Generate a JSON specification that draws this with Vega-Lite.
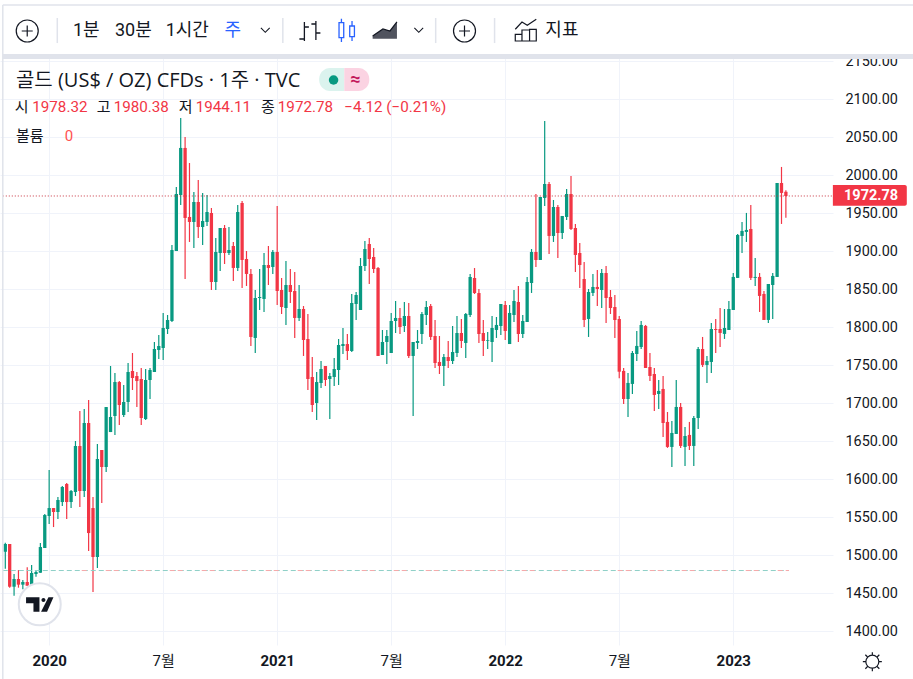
{
  "$schema": "https://vega.github.io/schema/vega-lite/v6.json",
  "width": 833,
  "height": 645,
  "autosize": {"type": "none"},
  "padding": {"left": 0, "top": 0, "right": 80, "bottom": 34},
  "background": "#ffffff",
  "datasets": {
    "candles": [
      {"date":"2019-10-21","open":1504.8,"high":1516.6,"low":1482.4,"close":1514.9},
      {"date":"2019-10-28","open":1514.9,"high":1514.9,"low":1457.4,"close":1458.7},
      {"date":"2019-11-04","open":1458.7,"high":1475.4,"low":1446.9,"close":1468.8},
      {"date":"2019-11-11","open":1468.8,"high":1480.7,"low":1457.4,"close":1461.4},
      {"date":"2019-11-18","open":1461.4,"high":1467.5,"low":1455.2,"close":1464.9},
      {"date":"2019-11-25","open":1464.9,"high":1484.2,"low":1460.0,"close":1460.0},
      {"date":"2019-12-02","open":1461.4,"high":1487.2,"low":1461.4,"close":1476.7},
      {"date":"2019-12-09","open":1475.4,"high":1480.7,"low":1471.9,"close":1478.0},
      {"date":"2019-12-16","open":1477.1,"high":1516.2,"low":1477.1,"close":1510.9},
      {"date":"2019-12-23","open":1509.6,"high":1554.3,"low":1509.6,"close":1553.0},
      {"date":"2019-12-30","open":1551.7,"high":1612.2,"low":1541.2,"close":1562.2},
      {"date":"2020-01-06","open":1562.2,"high":1562.2,"low":1537.2,"close":1557.0},
      {"date":"2020-01-13","open":1557.0,"high":1576.7,"low":1547.8,"close":1572.8},
      {"date":"2020-01-20","open":1570.1,"high":1591.2,"low":1564.9,"close":1589.9},
      {"date":"2020-01-27","open":1593.8,"high":1595.1,"low":1547.8,"close":1570.1},
      {"date":"2020-02-03","open":1570.1,"high":1585.9,"low":1562.2,"close":1584.6},
      {"date":"2020-02-10","open":1583.3,"high":1650.4,"low":1578.0,"close":1643.8},
      {"date":"2020-02-17","open":1643.8,"high":1689.9,"low":1563.6,"close":1584.6},
      {"date":"2020-02-24","open":1584.6,"high":1692.5,"low":1576.7,"close":1674.1},
      {"date":"2020-03-02","open":1674.1,"high":1704.3,"low":1505.7,"close":1529.3},
      {"date":"2020-03-09","open":1562.2,"high":1576.7,"low":1451.7,"close":1497.8},
      {"date":"2020-03-16","open":1497.8,"high":1646.4,"low":1483.3,"close":1626.7},
      {"date":"2020-03-23","open":1638.6,"high":1638.6,"low":1568.8,"close":1616.2},
      {"date":"2020-03-30","open":1616.2,"high":1695.1,"low":1609.6,"close":1695.1},
      {"date":"2020-04-06","open":1662.2,"high":1749.1,"low":1662.2,"close":1682.0},
      {"date":"2020-04-13","open":1683.3,"high":1739.9,"low":1658.3,"close":1728.0},
      {"date":"2020-04-20","open":1728.0,"high":1729.3,"low":1671.4,"close":1697.8},
      {"date":"2020-04-27","open":1684.6,"high":1724.1,"low":1682.0,"close":1701.7},
      {"date":"2020-05-04","open":1701.7,"high":1753.0,"low":1688.5,"close":1741.2},
      {"date":"2020-05-11","open":1742.5,"high":1766.2,"low":1717.5,"close":1733.3},
      {"date":"2020-05-18","open":1735.9,"high":1741.2,"low":1695.1,"close":1729.3},
      {"date":"2020-05-25","open":1732.0,"high":1746.4,"low":1671.4,"close":1680.7},
      {"date":"2020-06-01","open":1679.3,"high":1745.1,"low":1678.0,"close":1730.7},
      {"date":"2020-06-08","open":1730.7,"high":1746.4,"low":1705.7,"close":1743.8},
      {"date":"2020-06-15","open":1741.2,"high":1780.7,"low":1741.2,"close":1771.5},
      {"date":"2020-06-22","open":1770.2,"high":1789.9,"low":1758.3,"close":1775.4},
      {"date":"2020-06-29","open":1772.8,"high":1818.8,"low":1757.0,"close":1799.1},
      {"date":"2020-07-06","open":1797.8,"high":1816.2,"low":1791.2,"close":1809.6},
      {"date":"2020-07-13","open":1808.3,"high":1908.3,"low":1807.0,"close":1901.7},
      {"date":"2020-07-20","open":1900.4,"high":1984.6,"low":1900.4,"close":1975.4},
      {"date":"2020-07-27","open":1974.1,"high":2075.4,"low":1961.0,"close":2036.0},
      {"date":"2020-08-03","open":2036.0,"high":2050.4,"low":1863.6,"close":1943.9},
      {"date":"2020-08-10","open":1945.2,"high":2016.2,"low":1912.3,"close":1938.6},
      {"date":"2020-08-17","open":1938.6,"high":1978.1,"low":1904.4,"close":1964.9},
      {"date":"2020-08-24","open":1964.9,"high":1993.9,"low":1917.5,"close":1932.0},
      {"date":"2020-08-31","open":1932.0,"high":1976.7,"low":1908.3,"close":1939.9},
      {"date":"2020-09-07","open":1938.6,"high":1974.1,"low":1933.3,"close":1951.7},
      {"date":"2020-09-14","open":1950.4,"high":1957.0,"low":1849.1,"close":1859.6},
      {"date":"2020-09-21","open":1859.6,"high":1917.5,"low":1849.1,"close":1899.1},
      {"date":"2020-09-28","open":1897.8,"high":1930.7,"low":1874.1,"close":1930.7},
      {"date":"2020-10-05","open":1930.7,"high":1934.6,"low":1883.3,"close":1897.8},
      {"date":"2020-10-12","open":1897.8,"high":1932.0,"low":1895.2,"close":1901.7},
      {"date":"2020-10-19","open":1907.0,"high":1912.3,"low":1861.0,"close":1878.1},
      {"date":"2020-10-26","open":1878.1,"high":1961.0,"low":1874.1,"close":1951.7},
      {"date":"2020-11-02","open":1963.6,"high":1966.2,"low":1851.7,"close":1888.6},
      {"date":"2020-11-09","open":1889.9,"high":1900.4,"low":1854.4,"close":1870.2},
      {"date":"2020-11-16","open":1870.2,"high":1876.8,"low":1775.4,"close":1787.3},
      {"date":"2020-11-23","open":1786.0,"high":1849.1,"low":1766.2,"close":1838.6},
      {"date":"2020-11-30","open":1838.6,"high":1876.8,"low":1822.8,"close":1839.9},
      {"date":"2020-12-07","open":1837.3,"high":1897.8,"low":1820.2,"close":1882.0},
      {"date":"2020-12-14","open":1882.0,"high":1907.0,"low":1855.7,"close":1878.1},
      {"date":"2020-12-21","open":1879.4,"high":1901.7,"low":1870.2,"close":1899.1},
      {"date":"2020-12-28","open":1899.1,"high":1959.6,"low":1829.4,"close":1847.8},
      {"date":"2021-01-04","open":1849.1,"high":1864.9,"low":1817.5,"close":1826.7},
      {"date":"2021-01-11","open":1825.4,"high":1887.3,"low":1803.1,"close":1855.7},
      {"date":"2021-01-18","open":1855.7,"high":1876.8,"low":1832.0,"close":1846.5},
      {"date":"2021-01-25","open":1847.8,"high":1872.8,"low":1785.9,"close":1812.3},
      {"date":"2021-02-01","open":1812.3,"high":1855.7,"low":1808.3,"close":1824.1},
      {"date":"2021-02-08","open":1824.1,"high":1828.0,"low":1762.3,"close":1783.3},
      {"date":"2021-02-15","open":1784.6,"high":1817.5,"low":1717.5,"close":1732.0},
      {"date":"2021-02-22","open":1734.6,"high":1760.9,"low":1688.6,"close":1697.8},
      {"date":"2021-03-01","open":1700.4,"high":1741.2,"low":1678.0,"close":1728.0},
      {"date":"2021-03-08","open":1726.7,"high":1755.7,"low":1720.1,"close":1745.1},
      {"date":"2021-03-15","open":1749.1,"high":1749.1,"low":1722.8,"close":1730.7},
      {"date":"2021-03-22","open":1732.0,"high":1739.9,"low":1679.4,"close":1735.9},
      {"date":"2021-03-29","open":1734.6,"high":1759.6,"low":1722.8,"close":1745.1},
      {"date":"2021-04-05","open":1743.8,"high":1784.6,"low":1724.1,"close":1776.7},
      {"date":"2021-04-12","open":1775.4,"high":1799.1,"low":1764.9,"close":1778.0},
      {"date":"2021-04-19","open":1778.0,"high":1791.2,"low":1757.0,"close":1768.8},
      {"date":"2021-04-26","open":1768.8,"high":1843.8,"low":1767.5,"close":1832.0},
      {"date":"2021-05-03","open":1830.7,"high":1846.5,"low":1809.6,"close":1842.5},
      {"date":"2021-05-10","open":1822.8,"high":1891.2,"low":1822.8,"close":1880.7},
      {"date":"2021-05-17","open":1880.7,"high":1913.6,"low":1874.1,"close":1903.0},
      {"date":"2021-05-24","open":1909.6,"high":1917.5,"low":1857.0,"close":1889.9},
      {"date":"2021-05-31","open":1892.5,"high":1904.4,"low":1871.5,"close":1876.7},
      {"date":"2021-06-07","open":1878.0,"high":1879.4,"low":1762.3,"close":1762.3},
      {"date":"2021-06-14","open":1763.6,"high":1796.5,"low":1763.6,"close":1780.7},
      {"date":"2021-06-21","open":1780.7,"high":1796.5,"low":1751.7,"close":1788.6},
      {"date":"2021-06-28","open":1766.2,"high":1818.8,"low":1766.2,"close":1808.3},
      {"date":"2021-07-05","open":1808.3,"high":1834.6,"low":1792.5,"close":1812.3},
      {"date":"2021-07-12","open":1812.3,"high":1825.4,"low":1791.2,"close":1800.4},
      {"date":"2021-07-19","open":1801.7,"high":1833.3,"low":1793.8,"close":1814.9},
      {"date":"2021-07-26","open":1814.9,"high":1832.0,"low":1759.6,"close":1762.3},
      {"date":"2021-08-02","open":1762.3,"high":1780.7,"low":1683.3,"close":1780.7},
      {"date":"2021-08-09","open":1779.4,"high":1796.5,"low":1771.5,"close":1782.0},
      {"date":"2021-08-16","open":1791.2,"high":1820.1,"low":1778.0,"close":1817.5},
      {"date":"2021-08-23","open":1816.2,"high":1834.6,"low":1803.0,"close":1826.7},
      {"date":"2021-08-30","open":1828.0,"high":1830.7,"low":1783.3,"close":1787.3},
      {"date":"2021-09-06","open":1788.6,"high":1809.6,"low":1746.5,"close":1753.0},
      {"date":"2021-09-13","open":1754.4,"high":1788.6,"low":1738.6,"close":1749.1},
      {"date":"2021-09-20","open":1749.1,"high":1764.9,"low":1722.8,"close":1760.9},
      {"date":"2021-09-27","open":1760.9,"high":1782.0,"low":1746.5,"close":1755.7},
      {"date":"2021-10-04","open":1755.7,"high":1801.7,"low":1751.7,"close":1767.5},
      {"date":"2021-10-11","open":1766.2,"high":1814.9,"low":1760.9,"close":1792.5},
      {"date":"2021-10-18","open":1792.5,"high":1811.0,"low":1772.8,"close":1782.0},
      {"date":"2021-10-25","open":1779.4,"high":1818.8,"low":1759.6,"close":1817.5},
      {"date":"2021-11-01","open":1816.2,"high":1870.1,"low":1813.6,"close":1866.2},
      {"date":"2021-11-08","open":1864.9,"high":1878.0,"low":1843.8,"close":1845.1},
      {"date":"2021-11-15","open":1845.1,"high":1850.4,"low":1779.4,"close":1791.2},
      {"date":"2021-11-22","open":1792.5,"high":1809.6,"low":1762.3,"close":1782.0},
      {"date":"2021-11-29","open":1782.4,"high":1793.8,"low":1771.5,"close":1783.3},
      {"date":"2021-12-06","open":1780.7,"high":1814.9,"low":1754.4,"close":1799.1},
      {"date":"2021-12-13","open":1796.5,"high":1813.6,"low":1786.0,"close":1803.1},
      {"date":"2021-12-20","open":1801.7,"high":1830.7,"low":1790.0,"close":1830.7},
      {"date":"2021-12-27","open":1829.4,"high":1834.6,"low":1783.3,"close":1795.2},
      {"date":"2022-01-03","open":1778.0,"high":1829.4,"low":1778.0,"close":1818.9},
      {"date":"2022-01-10","open":1816.2,"high":1849.1,"low":1807.0,"close":1834.6},
      {"date":"2022-01-17","open":1833.3,"high":1854.4,"low":1780.7,"close":1791.2},
      {"date":"2022-01-24","open":1791.2,"high":1816.2,"low":1786.0,"close":1808.3},
      {"date":"2022-01-31","open":1807.0,"high":1866.2,"low":1807.0,"close":1859.6},
      {"date":"2022-02-07","open":1858.3,"high":1903.0,"low":1845.2,"close":1899.1},
      {"date":"2022-02-14","open":1899.1,"high":1975.4,"low":1879.4,"close":1888.6},
      {"date":"2022-02-21","open":1888.6,"high":1971.5,"low":1888.6,"close":1971.5},
      {"date":"2022-02-28","open":1970.2,"high":2071.5,"low":1959.6,"close":1988.6},
      {"date":"2022-03-07","open":1988.6,"high":1991.2,"low":1896.5,"close":1920.2},
      {"date":"2022-03-14","open":1920.2,"high":1967.5,"low":1912.3,"close":1958.3},
      {"date":"2022-03-21","open":1958.3,"high":1961.0,"low":1891.2,"close":1924.1},
      {"date":"2022-03-28","open":1924.1,"high":1946.5,"low":1916.2,"close":1946.5},
      {"date":"2022-04-04","open":1945.2,"high":1982.0,"low":1941.2,"close":1975.4},
      {"date":"2022-04-11","open":1975.4,"high":1999.1,"low":1928.1,"close":1929.4},
      {"date":"2022-04-18","open":1930.7,"high":1936.0,"low":1872.8,"close":1895.2},
      {"date":"2022-04-25","open":1897.8,"high":1911.0,"low":1851.7,"close":1882.0},
      {"date":"2022-05-02","open":1863.6,"high":1886.0,"low":1800.4,"close":1809.6},
      {"date":"2022-05-09","open":1811.0,"high":1850.4,"low":1787.3,"close":1846.5},
      {"date":"2022-05-16","open":1845.2,"high":1870.2,"low":1841.2,"close":1853.1},
      {"date":"2022-05-23","open":1853.1,"high":1875.4,"low":1828.1,"close":1850.4},
      {"date":"2022-05-30","open":1849.1,"high":1876.8,"low":1825.4,"close":1871.5},
      {"date":"2022-06-06","open":1871.5,"high":1880.7,"low":1805.7,"close":1838.6},
      {"date":"2022-06-13","open":1839.9,"high":1849.1,"low":1817.5,"close":1825.4},
      {"date":"2022-06-20","open":1826.7,"high":1842.5,"low":1786.0,"close":1809.6},
      {"date":"2022-06-27","open":1810.9,"high":1814.9,"low":1732.9,"close":1741.6},
      {"date":"2022-07-04","open":1742.6,"high":1746.5,"low":1699.2,"close":1705.7},
      {"date":"2022-07-11","open":1705.7,"high":1739.9,"low":1682.0,"close":1726.8},
      {"date":"2022-07-18","open":1725.5,"high":1768.9,"low":1712.3,"close":1766.2},
      {"date":"2022-07-25","open":1764.9,"high":1795.2,"low":1755.7,"close":1775.5},
      {"date":"2022-08-01","open":1774.1,"high":1808.4,"low":1771.5,"close":1803.1},
      {"date":"2022-08-08","open":1801.8,"high":1803.1,"low":1746.5,"close":1746.5},
      {"date":"2022-08-15","open":1747.8,"high":1766.3,"low":1729.4,"close":1736.0},
      {"date":"2022-08-22","open":1738.6,"high":1746.5,"low":1689.9,"close":1711.0},
      {"date":"2022-08-29","open":1712.3,"high":1730.7,"low":1692.6,"close":1716.3},
      {"date":"2022-09-05","open":1718.9,"high":1736.0,"low":1655.7,"close":1674.1},
      {"date":"2022-09-12","open":1675.5,"high":1688.6,"low":1641.3,"close":1642.6},
      {"date":"2022-09-19","open":1642.6,"high":1676.8,"low":1616.3,"close":1661.0},
      {"date":"2022-09-26","open":1659.7,"high":1730.7,"low":1659.7,"close":1695.2},
      {"date":"2022-10-03","open":1695.2,"high":1700.5,"low":1641.3,"close":1643.9},
      {"date":"2022-10-10","open":1642.6,"high":1668.9,"low":1617.6,"close":1657.0},
      {"date":"2022-10-17","open":1658.4,"high":1675.5,"low":1638.6,"close":1643.9},
      {"date":"2022-10-24","open":1643.9,"high":1683.4,"low":1617.6,"close":1680.7},
      {"date":"2022-10-31","open":1680.7,"high":1774.1,"low":1666.3,"close":1771.5},
      {"date":"2022-11-07","open":1771.5,"high":1787.3,"low":1747.8,"close":1750.5},
      {"date":"2022-11-14","open":1750.5,"high":1762.3,"low":1726.8,"close":1755.7},
      {"date":"2022-11-21","open":1754.4,"high":1805.7,"low":1739.9,"close":1797.8},
      {"date":"2022-11-28","open":1797.8,"high":1811.0,"low":1766.3,"close":1796.5},
      {"date":"2022-12-05","open":1797.8,"high":1825.5,"low":1774.1,"close":1792.6},
      {"date":"2022-12-12","open":1791.3,"high":1824.1,"low":1784.7,"close":1799.1},
      {"date":"2022-12-19","open":1796.5,"high":1834.7,"low":1796.5,"close":1824.1},
      {"date":"2022-12-26","open":1822.8,"high":1871.5,"low":1822.8,"close":1866.3},
      {"date":"2023-01-02","open":1865.0,"high":1922.8,"low":1865.0,"close":1921.5},
      {"date":"2023-01-09","open":1920.2,"high":1938.6,"low":1897.8,"close":1926.8},
      {"date":"2023-01-16","open":1925.5,"high":1950.5,"low":1912.3,"close":1928.1},
      {"date":"2023-01-23","open":1929.4,"high":1961.0,"low":1862.3,"close":1865.0},
      {"date":"2023-01-30","open":1865.0,"high":1891.3,"low":1854.4,"close":1866.3},
      {"date":"2023-02-06","open":1866.3,"high":1871.5,"low":1820.2,"close":1841.3},
      {"date":"2023-02-13","open":1843.9,"high":1847.8,"low":1809.7,"close":1809.7},
      {"date":"2023-02-20","open":1809.7,"high":1857.0,"low":1805.7,"close":1857.0},
      {"date":"2023-02-27","open":1855.7,"high":1871.5,"low":1811.0,"close":1867.6},
      {"date":"2023-03-06","open":1866.3,"high":1989.9,"low":1866.3,"close":1989.9},
      {"date":"2023-03-13","open":1989.9,"high":2011.0,"low":1936.0,"close":1976.8},
      {"date":"2023-03-20","open":1978.32,"high":1980.38,"low":1944.11,"close":1972.78}
    ]
  },
  "layer": [
    {
      "data": {"name": "candles"},
      "mark": {"type": "rule", "strokeWidth": 1.2},
      "encoding": {
        "x": {
          "field": "date",
          "type": "temporal",
          "scale": {"domain": ["2019-10-12T13:00:00", "2023-06-03T05:00:00"], "padding": 0},
          "title": null,
          "axis": {
            "values": ["2019-12-30", "2020-06-29", "2020-12-28", "2021-06-28", "2021-12-27", "2022-06-27", "2022-12-26"],
            "labelExpr": "month(datum.value) < 8 ? '7월' : '' + (year(datum.value) + 1)",
            "labelFontWeight": {"condition": {"test": "month(datum.value) >= 8", "value": "bold"}, "value": "normal"},
            "labelFontSize": 15,
            "labelPadding": 8,
            "labelFlush": false,
            "ticks": false,
            "domain": false,
            "gridColor": "#f0f3fa"
          }
        },
        "y": {
          "field": "low",
          "type": "quantitative",
          "scale": {"domain": [1382, 2230.66], "nice": false, "zero": false},
          "title": null,
          "axis": {
            "orient": "right",
            "values": [1400, 1450, 1500, 1550, 1600, 1650, 1700, 1750, 1800, 1850, 1900, 1950, 2000, 2050, 2100, 2150],
            "format": ".2f",
            "labelFontSize": 14.4,
            "labelPadding": 12,
            "ticks": false,
            "domain": false,
            "gridColor": "#f0f3fa"
          }
        },
        "y2": {"field": "high"},
        "color": {"condition": {"test": "datum.close < datum.open", "value": "#f23645"}, "value": "#089981"}
      }
    },
    {
      "data": {"name": "candles"},
      "mark": {"type": "bar", "size": 3.3},
      "encoding": {
        "x": {"field": "date", "type": "temporal"},
        "y": {"field": "open", "type": "quantitative"},
        "y2": {"field": "close"},
        "color": {"condition": {"test": "datum.close < datum.open", "value": "#f23645"}, "value": "#089981"}
      }
    },
    {
      "data": {"values": [{}]},
      "mark": {"type": "rule", "stroke": "#c8323f", "strokeWidth": 1, "strokeDash": [1, 2]},
      "encoding": {"x": {"datum": {"year": 2019, "month": 10, "date": 17}, "type": "temporal"}, "x2": {"datum": {"year": 2023, "month": 6, "date": 3}}, "y": {"datum": 1972.78, "type": "quantitative"}}
    },
    {
      "data": {"values": [{}]},
      "mark": {"type": "rule", "stroke": "#8fd0c8", "strokeWidth": 1, "strokeDash": [5, 3]},
      "encoding": {"x": {"datum": {"year": 2019, "month": 10, "date": 17}, "type": "temporal"}, "x2": {"datum": {"year": 2023, "month": 3, "date": 25}}, "y": {"datum": 1480, "type": "quantitative"}}
    },
    {
      "data": {"values": [{}]},
      "mark": {"type": "rule", "stroke": "#f7a9ab", "strokeWidth": 1, "strokeDash": [5, 19, 5, 3]},
      "encoding": {"x": {"datum": {"year": 2020, "month": 2, "date": 20}, "type": "temporal"}, "x2": {"datum": {"year": 2023, "month": 3, "date": 25}}, "y": {"datum": 1480, "type": "quantitative"}}
    },
    {
      "data": {"values": [{}]},
      "mark": {"type": "rect", "fill": "#ffffff"},
      "encoding": {"x": {"datum": {"year": 2019, "month": 10, "date": 12}, "type": "temporal"}, "x2": {"datum": {"year": 2023, "month": 10, "date": 10}}, "y": {"datum": 2230.66, "type": "quantitative"}, "y2": {"datum": 2159.6}}
    },
    {
      "data": {"values": [{}]},
      "mark": {"type": "rect", "fill": "#e0e3eb"},
      "encoding": {"x": {"datum": {"year": 2019, "month": 10, "date": 17}, "type": "temporal"}, "x2": {"datum": {"year": 2023, "month": 10, "date": 10}}, "y": {"datum": 2159.6, "type": "quantitative"}, "y2": {"datum": 2153}}
    },
    {
      "data": {"values": [{}]},
      "mark": {"type": "rule", "stroke": "#e0e3eb", "strokeWidth": 1.5},
      "encoding": {"x": {"datum": {"year": 2019, "month": 10, "date": 17}, "type": "temporal"}, "y": {"datum": 2224, "type": "quantitative"}, "y2": {"datum": 1337.3}}
    },
    {
      "data": {"values": [{}]},
      "mark": {"type": "rule", "stroke": "#e0e3eb", "strokeWidth": 1.5},
      "encoding": {"x": {"datum": {"year": 2019, "month": 10, "date": 17}, "type": "temporal"}, "x2": {"datum": {"year": 2023, "month": 10, "date": 10}}, "y": {"datum": 2224, "type": "quantitative"}}
    },
    {
      "data": {"values": [{}]},
      "mark": {"type": "rule", "stroke": "#e0e3eb", "strokeWidth": 1.5},
      "encoding": {"x": {"datum": {"year": 2020, "month": 1, "date": 12}, "type": "temporal"}, "y": {"datum": 2207, "type": "quantitative"}, "y2": {"datum": 2174}}
    },
    {
      "data": {"values": [{}]},
      "mark": {"type": "rule", "stroke": "#e0e3eb", "strokeWidth": 1.5},
      "encoding": {"x": {"datum": {"year": 2021, "month": 1, "date": 6}, "type": "temporal"}, "y": {"datum": 2207, "type": "quantitative"}, "y2": {"datum": 2174}}
    },
    {
      "data": {"values": [{}]},
      "mark": {"type": "rule", "stroke": "#e0e3eb", "strokeWidth": 1.5},
      "encoding": {"x": {"datum": {"year": 2021, "month": 9, "date": 7}, "type": "temporal"}, "y": {"datum": 2207, "type": "quantitative"}, "y2": {"datum": 2174}}
    },
    {
      "data": {"values": [{}]},
      "mark": {"type": "rule", "stroke": "#e0e3eb", "strokeWidth": 1.5},
      "encoding": {"x": {"datum": {"year": 2021, "month": 12, "date": 10}, "type": "temporal"}, "y": {"datum": 2207, "type": "quantitative"}, "y2": {"datum": 2174}}
    },
    {
      "data": {"values": [{}]},
      "mark": {"type": "point", "filled": false, "size": 484, "stroke": "#131722", "strokeWidth": 1.2, "opacity": 1, "shape": "M-1,0A1,1 0 1,1 1,0A1,1 0 1,1 -1,0M-0.5,0H0.5M0,-0.5V0.5"},
      "encoding": {"x": {"datum": {"year": 2019, "month": 11, "date": 25}, "type": "temporal"}, "y": {"datum": 2189.9, "type": "quantitative"}}
    },
    {
      "data": {"values": [{}]},
      "mark": {"type": "point", "filled": false, "size": 484, "stroke": "#131722", "strokeWidth": 1.2, "opacity": 1, "shape": "M-1,0A1,1 0 1,1 1,0A1,1 0 1,1 -1,0M-0.5,0H0.5M0,-0.5V0.5"},
      "encoding": {"x": {"datum": {"year": 2021, "month": 10, "date": 23}, "type": "temporal"}, "y": {"datum": 2189.9, "type": "quantitative"}}
    },
    {
      "data": {"values": [{}]},
      "mark": {"type": "point", "filled": false, "size": 121, "stroke": "#131722", "strokeWidth": 1.1, "opacity": 1, "shape": "M-0.8,-0.4L0,0.4L0.8,-0.4"},
      "encoding": {"x": {"datum": {"year": 2020, "month": 12, "date": 9}, "type": "temporal"}, "y": {"datum": 2191, "type": "quantitative"}}
    },
    {
      "data": {"values": [{}]},
      "mark": {"type": "point", "filled": false, "size": 121, "stroke": "#131722", "strokeWidth": 1.1, "opacity": 1, "shape": "M-0.8,-0.4L0,0.4L0.8,-0.4"},
      "encoding": {"x": {"datum": {"year": 2021, "month": 8, "date": 11}, "type": "temporal"}, "y": {"datum": 2191, "type": "quantitative"}}
    },
    {
      "data": {"values": [{}]},
      "mark": {"type": "point", "filled": false, "size": 400, "stroke": "#131722", "strokeWidth": 1.3, "opacity": 1, "shape": "M-0.6,-0.9V1M-0.6,0.8H-1.1M-0.6,-0.4H-0.15M0.55,-1V0.9M0.55,-0.7H0.1M0.55,0.2H1"},
      "encoding": {"x": {"datum": {"year": 2021, "month": 2, "date": 19}, "type": "temporal"}, "y": {"datum": 2189.9, "type": "quantitative"}}
    },
    {
      "data": {"values": [{}]},
      "mark": {"type": "point", "filled": false, "size": 400, "stroke": "#2962ff", "strokeWidth": 1.3, "opacity": 1, "shape": "M-0.77,-0.83H-0.3V0.67H-0.77ZM-0.53,-1.23V-0.83M-0.53,0.67V1.1M0.3,-0.5H0.77V0.57H0.3ZM0.53,-1V-0.5M0.53,0.57V1"},
      "encoding": {"x": {"datum": {"year": 2021, "month": 4, "date": 18}, "type": "temporal"}, "y": {"datum": 2189.9, "type": "quantitative"}}
    },
    {
      "data": {"values": [{}]},
      "mark": {"type": "point", "filled": true, "size": 400, "fill": "#50535e", "opacity": 1, "shape": "M-1.23,0.5L-0.2,-0.2L0.5,0L1.2,-0.9V0.77H-1.23Z"},
      "encoding": {"x": {"datum": {"year": 2021, "month": 6, "date": 18}, "type": "temporal"}, "y": {"datum": 2189.9, "type": "quantitative"}}
    },
    {
      "data": {"values": [{}]},
      "mark": {"type": "point", "filled": false, "size": 400, "stroke": "#131722", "strokeWidth": 1.2, "opacity": 1, "shape": "M-1.23,0.5L-0.2,-0.2L0.5,0L1.2,-0.9"},
      "encoding": {"x": {"datum": {"year": 2021, "month": 6, "date": 18}, "type": "temporal"}, "y": {"datum": 2189.9, "type": "quantitative"}}
    },
    {
      "data": {"values": [{}]},
      "mark": {"type": "point", "filled": false, "size": 400, "stroke": "#131722", "strokeWidth": 1.2, "opacity": 1, "shape": "M-1,0.33H-0.33V1H-1ZM-0.33,-0.1H0.43V1H-0.33ZM0.43,-0.17H1.1V1H0.43ZM-1,-0.17L-0.33,-0.9L0.2,-0.57L1.1,-1.17"},
      "encoding": {"x": {"datum": {"year": 2022, "month": 1, "date": 28}, "type": "temporal"}, "y": {"datum": 2189.9, "type": "quantitative"}}
    },
    {
      "data": {"values": [{}]},
      "mark": {"type": "text", "text": "1분", "align": "left", "fontSize": 18, "color": "#131722"},
      "encoding": {"x": {"datum": {"year": 2020, "month": 2, "date": 6}, "type": "temporal"}, "y": {"datum": 2189.9, "type": "quantitative"}}
    },
    {
      "data": {"values": [{}]},
      "mark": {"type": "text", "text": "30분", "align": "left", "fontSize": 18, "color": "#131722"},
      "encoding": {"x": {"datum": {"year": 2020, "month": 4, "date": 13}, "type": "temporal"}, "y": {"datum": 2189.9, "type": "quantitative"}}
    },
    {
      "data": {"values": [{}]},
      "mark": {"type": "text", "text": "1시간", "align": "left", "fontSize": 18, "color": "#131722"},
      "encoding": {"x": {"datum": {"year": 2020, "month": 7, "date": 3}, "type": "temporal"}, "y": {"datum": 2189.9, "type": "quantitative"}}
    },
    {
      "data": {"values": [{}]},
      "mark": {"type": "text", "text": "주", "align": "left", "fontSize": 18, "color": "#2962ff"},
      "encoding": {"x": {"datum": {"year": 2020, "month": 10, "date": 5}, "type": "temporal"}, "y": {"datum": 2189.9, "type": "quantitative"}}
    },
    {
      "data": {"values": [{}]},
      "mark": {"type": "text", "text": "지표", "align": "left", "fontSize": 18, "color": "#131722"},
      "encoding": {"x": {"datum": {"year": 2022, "month": 3, "date": 1}, "type": "temporal"}, "y": {"datum": 2189.9, "type": "quantitative"}}
    },
    {
      "data": {"values": [{}]},
      "mark": {"type": "text", "text": "골드 (US$ / OZ) CFDs · 1주 · TVC", "align": "left", "fontSize": 20, "font": "Open Sans, 'Noto Sans CJK KR', sans-serif", "color": "#131722"},
      "encoding": {"x": {"datum": {"year": 2019, "month": 11, "date": 7}, "type": "temporal"}, "y": {"datum": 2124.1, "type": "quantitative"}}
    },
    {
      "data": {"values": [{}]},
      "mark": {"type": "bar", "fill": "#dbf3ee", "cornerRadiusTopLeft": 11, "cornerRadiusBottomLeft": 11},
      "encoding": {"x": {"datum": {"year": 2021, "month": 3, "date": 5}, "type": "temporal"}, "x2": {"datum": {"year": 2021, "month": 4, "date": 14}}, "y": {"datum": 2141.2, "type": "quantitative"}, "y2": {"datum": 2110.9}}
    },
    {
      "data": {"values": [{}]},
      "mark": {"type": "bar", "fill": "#fbd3e2", "cornerRadiusTopRight": 11, "cornerRadiusBottomRight": 11},
      "encoding": {"x": {"datum": {"year": 2021, "month": 4, "date": 14}, "type": "temporal"}, "x2": {"datum": {"year": 2021, "month": 5, "date": 24}}, "y": {"datum": 2141.2, "type": "quantitative"}, "y2": {"datum": 2110.9}}
    },
    {
      "data": {"values": [{}]},
      "mark": {"type": "point", "filled": true, "size": 90, "fill": "#089981", "opacity": 1, "shape": "circle"},
      "encoding": {"x": {"datum": {"year": 2021, "month": 3, "date": 28}, "type": "temporal"}, "y": {"datum": 2125.4, "type": "quantitative"}}
    },
    {
      "data": {"values": [{}]},
      "mark": {"type": "text", "text": "≈", "fontSize": 18, "fontWeight": "bold", "color": "#c2185b"},
      "encoding": {"x": {"datum": {"year": 2021, "month": 5, "date": 2}, "type": "temporal"}, "y": {"datum": 2125.4, "type": "quantitative"}}
    },
    {
      "data": {"values": [{}]},
      "mark": {"type": "text", "text": "시", "align": "left", "fontSize": 15, "color": "#131722"},
      "encoding": {"x": {"datum": {"year": 2019, "month": 11, "date": 5}, "type": "temporal"}, "y": {"datum": 2089.9, "type": "quantitative"}}
    },
    {
      "data": {"values": [{}]},
      "mark": {"type": "text", "text": "1978.32", "align": "left", "fontSize": 15.2, "color": "#f23645"},
      "encoding": {"x": {"datum": {"year": 2019, "month": 12, "date": 3}, "type": "temporal"}, "y": {"datum": 2089.9, "type": "quantitative"}}
    },
    {
      "data": {"values": [{}]},
      "mark": {"type": "text", "text": "고", "align": "left", "fontSize": 15, "color": "#131722"},
      "encoding": {"x": {"datum": {"year": 2020, "month": 3, "date": 15}, "type": "temporal"}, "y": {"datum": 2089.9, "type": "quantitative"}}
    },
    {
      "data": {"values": [{}]},
      "mark": {"type": "text", "text": "1980.38", "align": "left", "fontSize": 15.2, "color": "#f23645"},
      "encoding": {"x": {"datum": {"year": 2020, "month": 4, "date": 11}, "type": "temporal"}, "y": {"datum": 2089.9, "type": "quantitative"}}
    },
    {
      "data": {"values": [{}]},
      "mark": {"type": "text", "text": "저", "align": "left", "fontSize": 15, "color": "#131722"},
      "encoding": {"x": {"datum": {"year": 2020, "month": 7, "date": 24}, "type": "temporal"}, "y": {"datum": 2089.9, "type": "quantitative"}}
    },
    {
      "data": {"values": [{}]},
      "mark": {"type": "text", "text": "1944.11", "align": "left", "fontSize": 15.2, "color": "#f23645"},
      "encoding": {"x": {"datum": {"year": 2020, "month": 8, "date": 20}, "type": "temporal"}, "y": {"datum": 2089.9, "type": "quantitative"}}
    },
    {
      "data": {"values": [{}]},
      "mark": {"type": "text", "text": "종", "align": "left", "fontSize": 15, "color": "#131722"},
      "encoding": {"x": {"datum": {"year": 2020, "month": 12, "date": 2}, "type": "temporal"}, "y": {"datum": 2089.9, "type": "quantitative"}}
    },
    {
      "data": {"values": [{}]},
      "mark": {"type": "text", "text": "1972.78", "align": "left", "fontSize": 15.2, "color": "#f23645"},
      "encoding": {"x": {"datum": {"year": 2020, "month": 12, "date": 29}, "type": "temporal"}, "y": {"datum": 2089.9, "type": "quantitative"}}
    },
    {
      "data": {"values": [{}]},
      "mark": {"type": "text", "text": "−4.12 (−0.21%)", "align": "left", "fontSize": 15.2, "color": "#f23645"},
      "encoding": {"x": {"datum": {"year": 2021, "month": 4, "date": 14}, "type": "temporal"}, "y": {"datum": 2089.9, "type": "quantitative"}}
    },
    {
      "data": {"values": [{}]},
      "mark": {"type": "text", "text": "볼륨", "align": "left", "fontSize": 15, "color": "#131722"},
      "encoding": {"x": {"datum": {"year": 2019, "month": 11, "date": 7}, "type": "temporal"}, "y": {"datum": 2051.7, "type": "quantitative"}}
    },
    {
      "data": {"values": [{}]},
      "mark": {"type": "text", "text": "0", "align": "left", "fontSize": 15, "color": "#ff5252"},
      "encoding": {"x": {"datum": {"year": 2020, "month": 1, "date": 24}, "type": "temporal"}, "y": {"datum": 2051.7, "type": "quantitative"}}
    },
    {
      "data": {"values": [{}]},
      "mark": {"type": "point", "filled": true, "size": 1764, "fill": "#ffffff", "stroke": "#e0e3eb", "strokeWidth": 2, "opacity": 1, "shape": "circle"},
      "encoding": {"x": {"datum": {"year": 2019, "month": 12, "date": 15}, "type": "temporal"}, "y": {"datum": 1435.5, "type": "quantitative"}}
    },
    {
      "data": {"values": [{}]},
      "mark": {"type": "point", "filled": true, "size": 400, "fill": "#131722", "opacity": 1, "shape": "M-1.37,-0.7H-0.03V0.73H-0.63V-0.1H-1.37ZM0.17,-0.43A0.2,0.2 0 1,1 0.57,-0.43A0.2,0.2 0 1,1 0.17,-0.43ZM0.87,-0.7H1.37L0.73,0.73H0.13Z"},
      "encoding": {"x": {"datum": {"year": 2019, "month": 12, "date": 15}, "type": "temporal"}, "y": {"datum": 1435.5, "type": "quantitative"}}
    },
    {
      "data": {"values": [{}]},
      "mark": {"type": "point", "filled": false, "size": 400, "stroke": "#131722", "strokeWidth": 1.2, "opacity": 1, "shape": "M-0.65,0A0.65,0.65 0 1,1 0.65,0A0.65,0.65 0 1,1 -0.65,0M0,-0.65V-0.95M0,0.65V0.95M-0.65,0H-0.95M0.65,0H0.95M-0.5,-0.5L-0.7,-0.7M0.5,-0.5L0.7,-0.7M-0.5,0.5L-0.7,0.7M0.5,0.5L0.7,0.7"},
      "encoding": {"x": {"datum": {"year": 2023, "month": 8, "date": 5}, "type": "temporal"}, "y": {"datum": 1360, "type": "quantitative"}}
    },
    {
      "data": {"values": [{}]},
      "mark": {"type": "bar", "fill": "#f23645", "cornerRadiusTopRight": 2, "cornerRadiusBottomRight": 2},
      "encoding": {"x": {"datum": {"year": 2023, "month": 6, "date": 3}, "type": "temporal"}, "x2": {"datum": {"year": 2023, "month": 9, "date": 29}}, "y": {"datum": 1987.2, "type": "quantitative"}, "y2": {"datum": 1960}}
    },
    {
      "data": {"values": [{}]},
      "mark": {"type": "text", "text": "1972.78", "fontSize": 14.5, "fontWeight": "bold", "color": "#ffffff"},
      "encoding": {"x": {"datum": {"year": 2023, "month": 8, "date": 3}, "type": "temporal"}, "y": {"datum": 1972.78, "type": "quantitative"}}
    }
  ],
  "config": {
    "view": {"stroke": null},
    "font": "Roboto, 'Noto Sans CJK KR', sans-serif",
    "text": {"font": "Roboto, 'Noto Sans CJK KR', sans-serif"},
    "axis": {"labelFont": "Roboto, 'Noto Sans CJK KR', sans-serif", "labelFontSize": 14, "labelColor": "#131722", "grid": true}
  }
}
